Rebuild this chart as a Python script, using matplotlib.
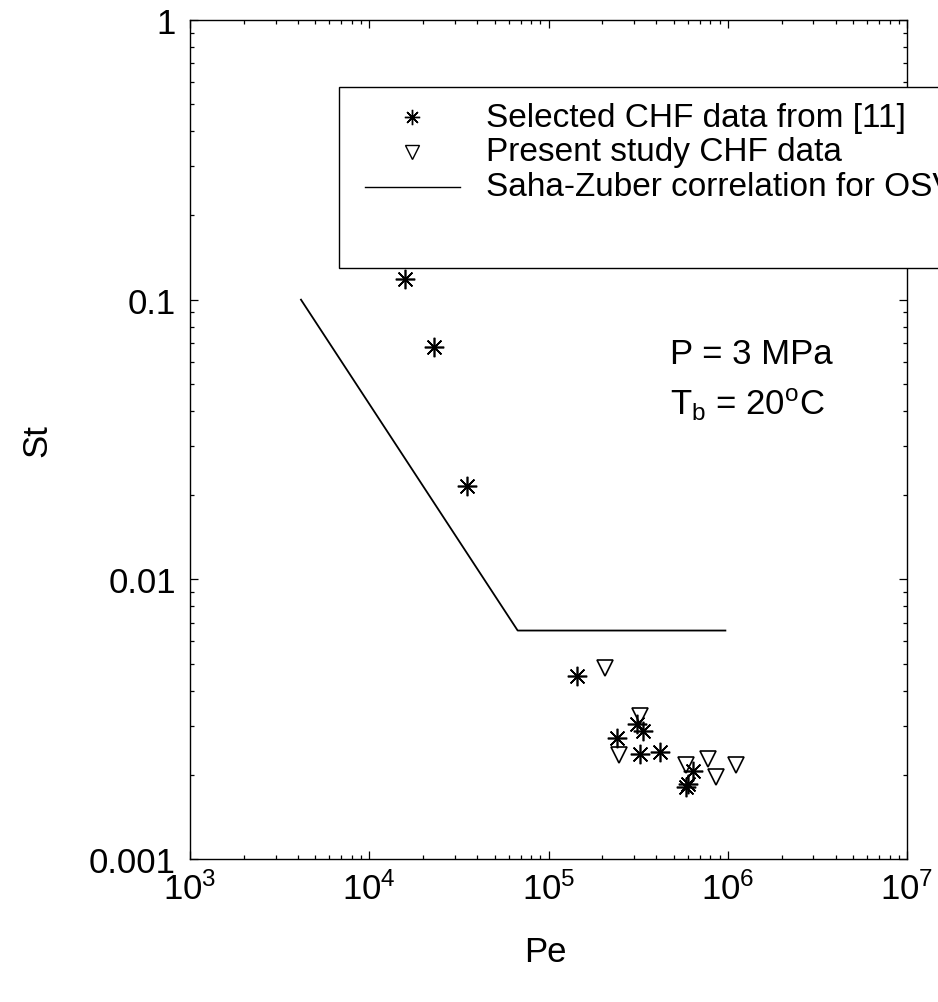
import numpy as np
import matplotlib
matplotlib.use("Agg")
import matplotlib.pyplot as plt
from matplotlib import font_manager
from matplotlib.patches import Rectangle
from matplotlib.ticker import FixedLocator, FixedFormatter, LogLocator, NullFormatter

# narrow Arial-like face if available
try:
    font_manager.findfont("Liberation Sans Narrow", fallback_to_default=False)
    FONT = "Liberation Sans Narrow"
except Exception:
    FONT = "Liberation Sans"

plt.rcParams["font.family"] = [FONT, "DejaVu Sans"]
plt.rcParams["mathtext.fontset"] = "custom"
plt.rcParams["mathtext.rm"] = FONT
plt.rcParams["mathtext.it"] = FONT
plt.rcParams["mathtext.default"] = "regular"

# selected CHF data from [11]
pe_ref = [1.58e4, 2.29e4, 3.52e4, 1.45e5, 3.13e5, 3.35e5, 2.40e5, 3.24e5,
          4.19e5, 6.43e5, 5.98e5, 5.82e5]
st_ref = [0.1186, 0.0679, 0.0216, 0.00453, 0.00304, 0.00288, 0.00270, 0.00238,
          0.00242, 0.00207, 0.00185, 0.00181]

# present study CHF data
pe_new = [2.07e5, 3.24e5, 2.47e5, 5.82e5, 7.73e5, 8.65e5, 1.11e6]
st_new = [0.00482, 0.00324, 0.00236, 0.00217, 0.00227, 0.00196, 0.00217]

# Saha-Zuber correlation for OSV
pe_sz = [4.16e3, 6.73e4, 9.7e5]
st_sz = [0.1, 0.00656, 0.00656]

fig = plt.figure(figsize=(9.38, 10.03), dpi=100)
ax = fig.add_axes([190 / 938, 1 - 860 / 1003, 717 / 938, 839 / 1003])

star = (8, 2, 0)
ax.plot(pe_ref, st_ref, linestyle="none", marker=star, ms=14, mew=1.2,
        color="black")
ax.plot(pe_new, st_new, linestyle="none", marker="v", ms=12, mew=1.2,
        mfc="none", mec="black")
ax.plot(pe_sz, st_sz, color="black", lw=1.3)

ax.set_xscale("log")
ax.set_yscale("log")
ax.set_xlim(1e3, 1e7)
ax.set_ylim(1e-3, 1)

ax.yaxis.set_major_locator(FixedLocator([0.001, 0.01, 0.1, 1]))
ax.yaxis.set_major_formatter(FixedFormatter(["0.001", "0.01", "0.1", "1"]))
ax.xaxis.set_minor_locator(LogLocator(base=10, subs=np.arange(2, 10)))
ax.yaxis.set_minor_locator(LogLocator(base=10, subs=np.arange(2, 10)))
ax.xaxis.set_minor_formatter(NullFormatter())
ax.yaxis.set_minor_formatter(NullFormatter())

ax.tick_params(which="both", direction="in", top=True, right=True,
               labelsize=25, width=0.9)
ax.tick_params(which="major", length=6)
ax.tick_params(which="minor", length=3)
ax.tick_params(axis="y", pad=10)
ax.tick_params(axis="x", pad=9)
for s in ax.spines.values():
    s.set_linewidth(1.0)

ax.set_xlabel("Pe", fontsize=25)
ax.set_ylabel("St", fontsize=25)
ax.xaxis.set_label_coords(0.495, -0.09)
ax.yaxis.set_label_coords(-0.19, 0.50)

ax.text(0.669, 0.602, "P = 3 MPa", transform=ax.transAxes, fontsize=25,
        va="center", ha="left")
ax.text(0.669, 0.543, "T$_b$ = 20$^o$C", transform=ax.transAxes, fontsize=25,
        va="center", ha="left")

# legend box (runs past the right edge of the figure, as in the original)
def px2ax(x, y):
    return (x - 190) / 717, (860 - y) / 839

x0, y0 = px2ax(339, 269)
x1, y1 = px2ax(990, 88)
ax.add_patch(Rectangle((x0, y0), x1 - x0, y1 - y0, transform=ax.transAxes,
                       fill=True, facecolor="white", edgecolor="black",
                       lw=1.0, clip_on=False, zorder=5))
rows = [118, 153, 188]
mx0, _ = px2ax(412, 0)
ax.plot([mx0], [px2ax(0, rows[0])[1]], transform=ax.transAxes, marker=star,
        ms=11, mew=1.0, color="black", clip_on=False, zorder=6)
ax.plot([mx0], [px2ax(0, rows[1])[1]], transform=ax.transAxes, marker="v",
        ms=10, mew=1.0, mfc="none", mec="black", clip_on=False, zorder=6)
lx0, _ = px2ax(365, 0)
lx1, _ = px2ax(460, 0)
ax.plot([lx0, lx1], [px2ax(0, rows[2])[1]] * 2, transform=ax.transAxes,
        color="black", lw=1.0, clip_on=False, zorder=6)
labels = ["Selected CHF data from [11]", "Present study CHF data",
          "Saha-Zuber correlation for OSV"]
tx, _ = px2ax(486, 0)
for r, lab in zip(rows, labels):
    ax.text(tx, px2ax(0, r)[1], lab, transform=ax.transAxes, fontsize=24,
            va="center", ha="left", zorder=6, clip_on=False)

fig.savefig("out.png", dpi=100)
